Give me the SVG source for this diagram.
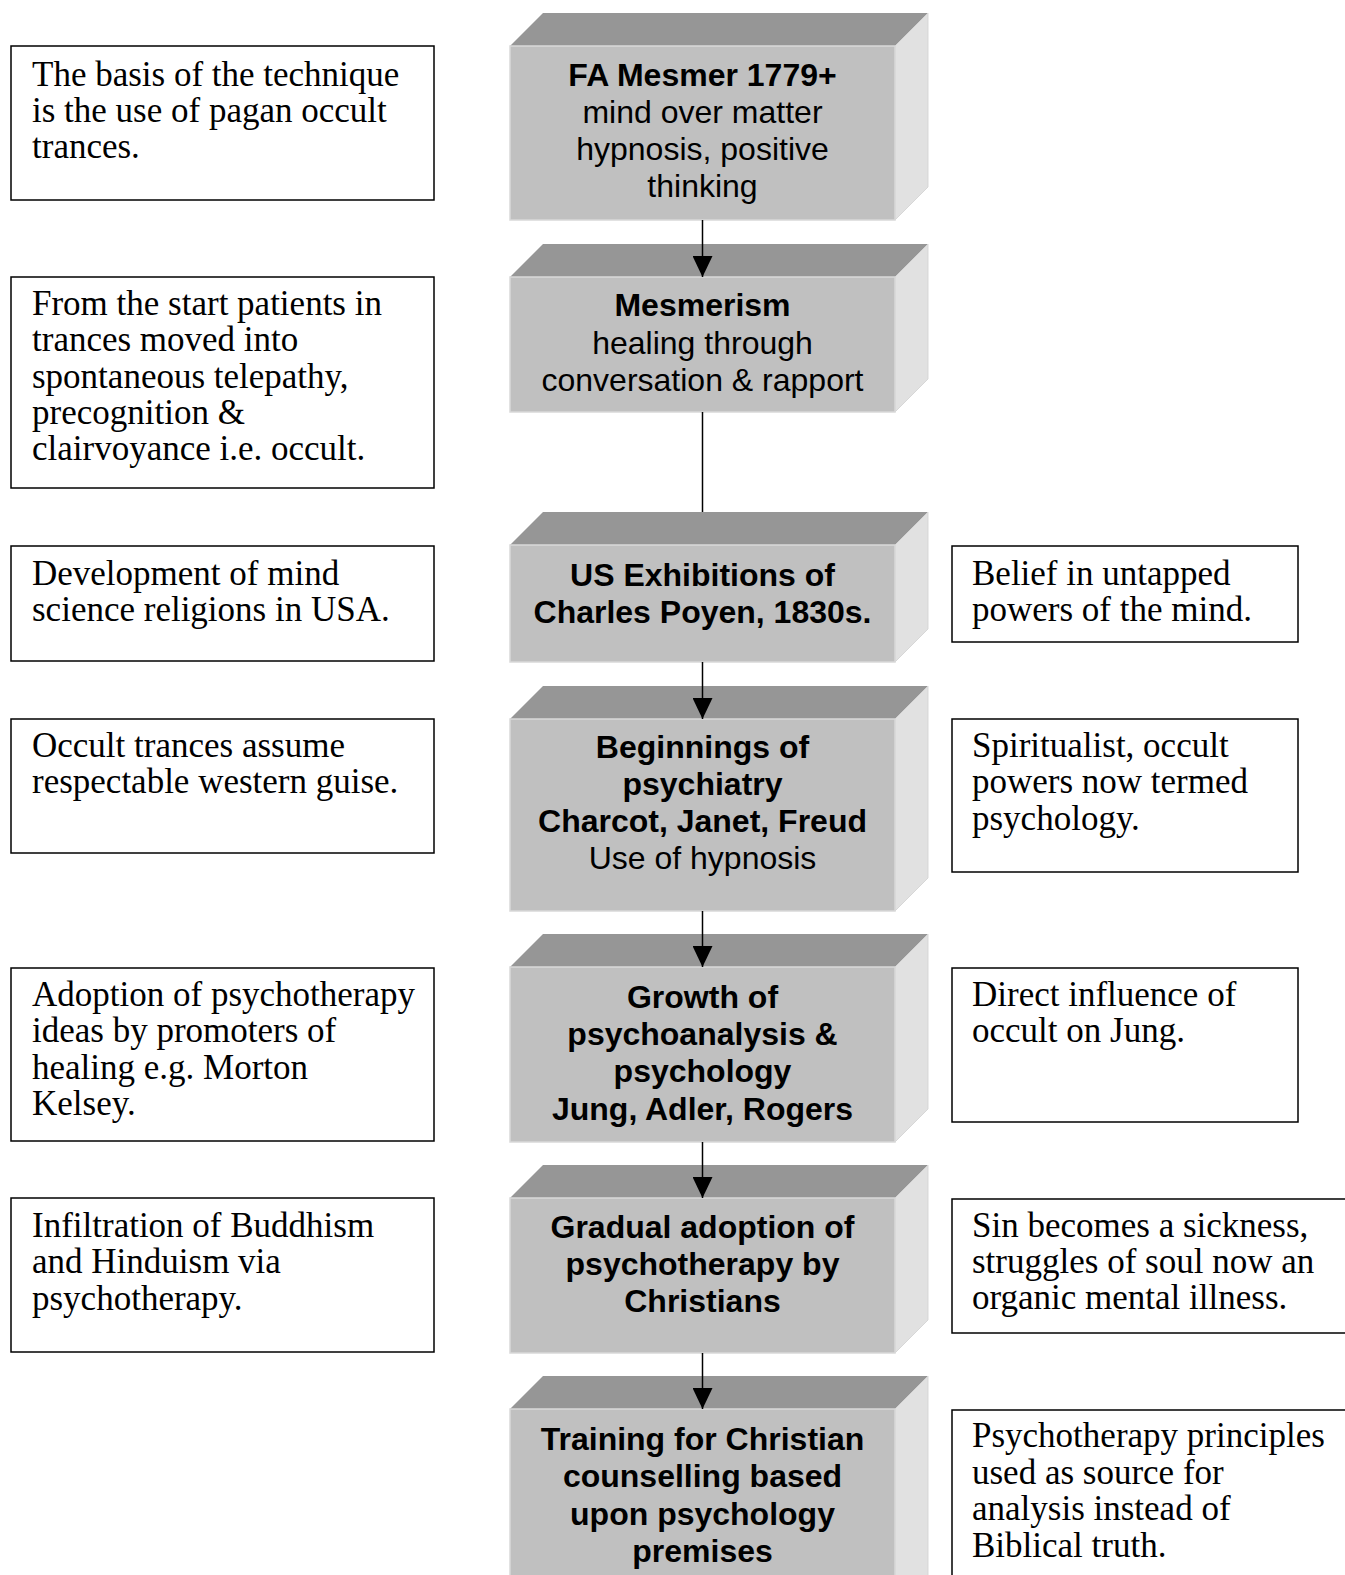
<svg xmlns="http://www.w3.org/2000/svg" width="1345" height="1575" viewBox="0 0 1345 1575">
<defs>
<style>
.front{fill:#c0c0c0;stroke:#d9d9d9;stroke-width:1.5}
.top{fill:#969696}
.side{fill:#e1e1e1;stroke:#d0d0d0;stroke-width:0.8}
.nt{font-family:"Liberation Sans",Arial,sans-serif;font-size:32px;fill:#000;text-anchor:middle}
.b{font-weight:bold}
.note{fill:#fff;stroke:#000;stroke-width:1.5}
.nx{font-family:"Liberation Serif","Times New Roman",serif;font-size:35px;fill:#000}
.con{stroke:#000;stroke-width:1.5;fill:none}
</style>
<marker id="arr" markerUnits="userSpaceOnUse" viewBox="0 0 21 20" markerWidth="21" markerHeight="20" refX="21" refY="10" orient="auto">
<path d="M0,0 L21,10 L0,20 Z" fill="#000"/>
</marker>
</defs>
<rect width="1345" height="1575" fill="#fff"/>

<!-- center nodes -->
<g id="n1">
<polygon class="top" points="510,46 543,13 928,13 895,46"/>
<polygon class="side" points="895,46 928,13 928,187 895,220"/>
<rect class="front" x="510" y="46" width="385" height="174"/>
<text class="nt"><tspan class="b" x="702.5" y="86">FA Mesmer 1779+</tspan><tspan x="702.5" y="123">mind over matter</tspan><tspan x="702.5" y="160">hypnosis, positive</tspan><tspan x="702.5" y="197">thinking</tspan></text>
</g>
<g id="n2">
<polygon class="top" points="510,277 543,244 928,244 895,277"/>
<polygon class="side" points="895,277 928,244 928,379 895,412"/>
<rect class="front" x="510" y="277" width="385" height="135"/>
<text class="nt"><tspan class="b" x="702.5" y="316">Mesmerism</tspan><tspan x="702.5" y="354">healing through</tspan><tspan x="702.5" y="391">conversation &amp; rapport</tspan></text>
</g>
<g id="n3">
<polygon class="top" points="510,545 543,512 928,512 895,545"/>
<polygon class="side" points="895,545 928,512 928,629 895,662"/>
<rect class="front" x="510" y="545" width="385" height="117"/>
<text class="nt b"><tspan x="702.5" y="586">US Exhibitions of</tspan><tspan x="702.5" y="623">Charles Poyen, 1830s.</tspan></text>
</g>
<g id="n4">
<polygon class="top" points="510,719 543,686 928,686 895,719"/>
<polygon class="side" points="895,719 928,686 928,878 895,911"/>
<rect class="front" x="510" y="719" width="385" height="192"/>
<text class="nt"><tspan class="b" x="702.5" y="758">Beginnings of</tspan><tspan class="b" x="702.5" y="795">psychiatry</tspan><tspan class="b" x="702.5" y="832">Charcot, Janet, Freud</tspan><tspan x="702.5" y="869">Use of hypnosis</tspan></text>
</g>
<g id="n5">
<polygon class="top" points="510,967 543,934 928,934 895,967"/>
<polygon class="side" points="895,967 928,934 928,1109 895,1142"/>
<rect class="front" x="510" y="967" width="385" height="175"/>
<text class="nt b"><tspan x="702.5" y="1008">Growth of</tspan><tspan x="702.5" y="1045">psychoanalysis &amp;</tspan><tspan x="702.5" y="1082">psychology</tspan><tspan x="702.5" y="1120">Jung, Adler, Rogers</tspan></text>
</g>
<g id="n6">
<polygon class="top" points="510,1198 543,1165 928,1165 895,1198"/>
<polygon class="side" points="895,1198 928,1165 928,1320 895,1353"/>
<rect class="front" x="510" y="1198" width="385" height="155"/>
<text class="nt b"><tspan x="702.5" y="1238">Gradual adoption of</tspan><tspan x="702.5" y="1275">psychotherapy by</tspan><tspan x="702.5" y="1312">Christians</tspan></text>
</g>
<g id="n7">
<polygon class="top" points="510,1409 543,1376 928,1376 895,1409"/>
<polygon class="side" points="895,1409 928,1376 928,1600 895,1600"/>
<rect class="front" x="510" y="1409" width="385" height="200"/>
<text class="nt b"><tspan x="702.5" y="1450">Training for Christian</tspan><tspan x="702.5" y="1487">counselling based</tspan><tspan x="702.5" y="1525">upon psychology</tspan><tspan x="702.5" y="1562">premises</tspan></text>
</g>

<!-- left notes -->
<g id="l1">
<rect class="note" x="11" y="46" width="423" height="154"/>
<text class="nx"><tspan x="32" y="86">The basis of the technique</tspan><tspan x="32" y="122">is the use of pagan occult</tspan><tspan x="32" y="158">trances.</tspan></text>
</g>
<g id="l2">
<rect class="note" x="11" y="277" width="423" height="211"/>
<text class="nx"><tspan x="32" y="315">From the start patients in</tspan><tspan x="32" y="351">trances moved into</tspan><tspan x="32" y="388">spontaneous telepathy,</tspan><tspan x="32" y="424">precognition &amp;</tspan><tspan x="32" y="460">clairvoyance i.e. occult.</tspan></text>
</g>
<g id="l3">
<rect class="note" x="11" y="546" width="423" height="115"/>
<text class="nx"><tspan x="32" y="585">Development of mind</tspan><tspan x="32" y="621">science religions in USA.</tspan></text>
</g>
<g id="l4">
<rect class="note" x="11" y="719" width="423" height="134"/>
<text class="nx"><tspan x="32" y="757">Occult trances assume</tspan><tspan x="32" y="793">respectable western guise.</tspan></text>
</g>
<g id="l5">
<rect class="note" x="11" y="968" width="423" height="173"/>
<text class="nx"><tspan x="32" y="1006">Adoption of psychotherapy</tspan><tspan x="32" y="1042">ideas by promoters of</tspan><tspan x="32" y="1079">healing e.g. Morton</tspan><tspan x="32" y="1115">Kelsey.</tspan></text>
</g>
<g id="l6">
<rect class="note" x="11" y="1198" width="423" height="154"/>
<text class="nx"><tspan x="32" y="1237">Infiltration of Buddhism</tspan><tspan x="32" y="1273">and Hinduism via</tspan><tspan x="32" y="1310">psychotherapy.</tspan></text>
</g>

<!-- right notes -->
<g id="r1">
<rect class="note" x="952" y="546" width="346" height="96"/>
<text class="nx"><tspan x="972" y="585">Belief in untapped</tspan><tspan x="972" y="621">powers of the mind.</tspan></text>
</g>
<g id="r2">
<rect class="note" x="952" y="719" width="346" height="153"/>
<text class="nx"><tspan x="972" y="757">Spiritualist, occult</tspan><tspan x="972" y="793">powers now termed</tspan><tspan x="972" y="830">psychology.</tspan></text>
</g>
<g id="r3">
<rect class="note" x="952" y="968" width="346" height="154"/>
<text class="nx"><tspan x="972" y="1006">Direct influence of</tspan><tspan x="972" y="1042">occult on Jung.</tspan></text>
</g>
<g id="r4">
<rect class="note" x="952" y="1199" width="410" height="134"/>
<text class="nx"><tspan x="972" y="1237">Sin becomes a sickness,</tspan><tspan x="972" y="1273">struggles of soul now an</tspan><tspan x="972" y="1309">organic mental illness.</tspan></text>
</g>
<g id="r5">
<rect class="note" x="952" y="1410" width="410" height="200"/>
<text class="nx"><tspan x="972" y="1447">Psychotherapy principles</tspan><tspan x="972" y="1484">used as source for</tspan><tspan x="972" y="1520">analysis instead of</tspan><tspan x="972" y="1557">Biblical truth.</tspan></text>
</g>

<!-- connectors -->
<g id="connectors">
<line class="con" x1="702.5" y1="220" x2="702.5" y2="277" marker-end="url(#arr)"/>
<line class="con" x1="702.5" y1="412" x2="702.5" y2="512"/>
<line class="con" x1="702.5" y1="662" x2="702.5" y2="719" marker-end="url(#arr)"/>
<line class="con" x1="702.5" y1="911" x2="702.5" y2="967" marker-end="url(#arr)"/>
<line class="con" x1="702.5" y1="1142" x2="702.5" y2="1198" marker-end="url(#arr)"/>
<line class="con" x1="702.5" y1="1353" x2="702.5" y2="1409" marker-end="url(#arr)"/>
</g>
</svg>
